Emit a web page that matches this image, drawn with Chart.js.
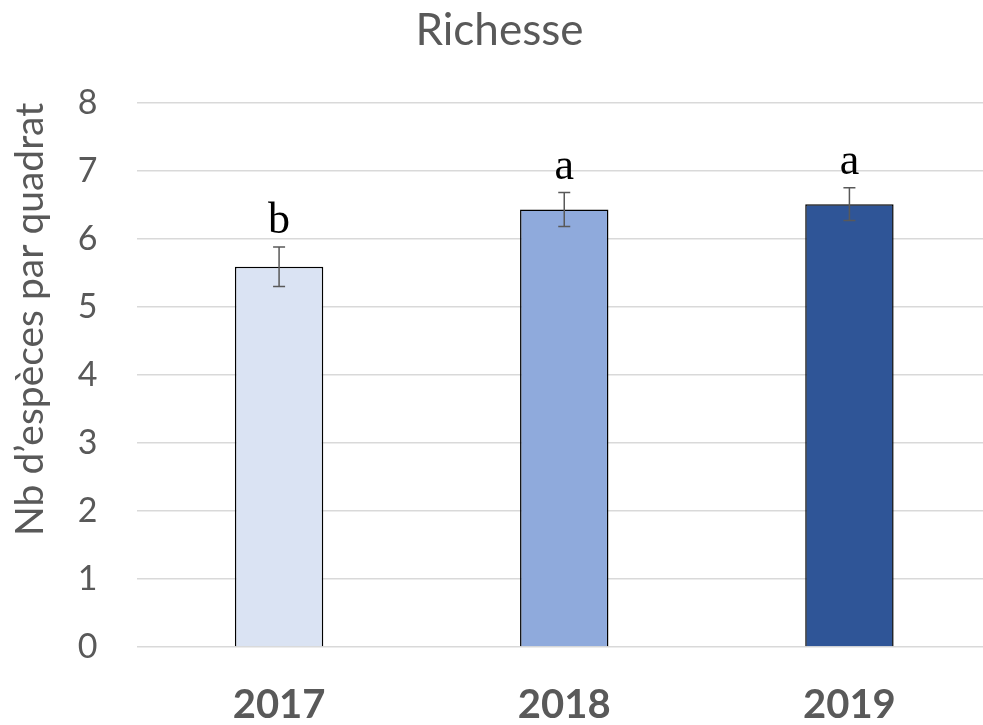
<!DOCTYPE html>
<html>
<head>
<meta charset="utf-8">
<script src="https://cdn.jsdelivr.net/npm/chart.js@4"></script>
<style>
  html, body { margin: 0; padding: 0; background: #fff; overflow: hidden; }
  #wrap { width: 992px; height: 725px; }
</style>
</head>
<body>
<div id="wrap"><canvas id="richChart"></canvas></div>
<script>
const years = ["2017", "2018", "2019"];
const means = [5.59, 6.43, 6.51];
const errors = [0.29, 0.25, 0.24];
const letters = ["b", "a", "a"];
const barColors = ["#DAE3F3", "#8FAADC", "#2F5597"];

// error bars + significance letters
const errorBarPlugin = {
  id: "errorBars",
  afterDatasetsDraw(chart) {
    const ctx = chart.ctx;
    const y = chart.scales.y;
    const meta = chart.getDatasetMeta(0);
    ctx.save();
    meta.data.forEach((bar, i) => {
      const top = y.getPixelForValue(means[i] + errors[i]);
      const bot = y.getPixelForValue(means[i] - errors[i]);
      ctx.strokeStyle = "#595959";
      ctx.lineWidth = 1.5;
      ctx.beginPath();
      ctx.moveTo(bar.x, top);
      ctx.lineTo(bar.x, bot);
      ctx.moveTo(bar.x - 6, top);
      ctx.lineTo(bar.x + 6, top);
      ctx.moveTo(bar.x - 6, bot);
      ctx.lineTo(bar.x + 6, bot);
      ctx.stroke();
      ctx.fillStyle = "#000";
      ctx.font = "44px 'Liberation Serif'";
      ctx.textAlign = "center";
      ctx.textBaseline = "alphabetic";
      ctx.fillText(letters[i], bar.x, top - 14);
    });
    ctx.restore();
  }
};

new Chart("richChart", {
  type: "bar",
  data: {
    labels: years,
    datasets: [{
      data: means,
      backgroundColor: barColors,
      borderColor: "#000",
      borderWidth: 1.5,
      categoryPercentage: 1,
      barPercentage: 0.31
    }]
  },
  plugins: [errorBarPlugin],
  options: {
    responsive: true,
    maintainAspectRatio: false,
    animation: false,
    layout: { padding: { left: 7, right: 0, top: 4, bottom: 2 } },
    plugins: {
      legend: { display: false },
      tooltip: { enabled: false },
      title: {
        display: true,
        text: "Richesse",
        color: "#595959",
        font: { family: "Lato", size: 44, weight: "normal" },
        padding: { top: 0, bottom: 46 }
      }
    },
    scales: {
      x: {
        grid: { display: false },
        border: { display: false },
        ticks: {
          color: "#595959",
          font: { family: "Lato", size: 40, weight: "bold" },
          padding: 26,
          maxRotation: 0,
          minRotation: 0
        },
        afterFit(scale) { scale.height = 76; }
      },
      y: {
        min: 0,
        max: 8,
        grid: { color: "#D9D9D9", lineWidth: 1.5, drawTicks: false },
        border: { display: false },
        ticks: {
          stepSize: 1,
          color: "#595959",
          font: { family: "Lato", size: 34 },
          padding: 39
        },
        title: {
          display: true,
          text: "Nb d’espèces par quadrat",
          align: "end",
          color: "#595959",
          font: { family: "Lato", size: 39 },
          padding: { top: 0, bottom: 25 }
        },
        afterFit(scale) { scale.width = 129.5; }
      }
    }
  }
});
</script>
</body>
</html>
